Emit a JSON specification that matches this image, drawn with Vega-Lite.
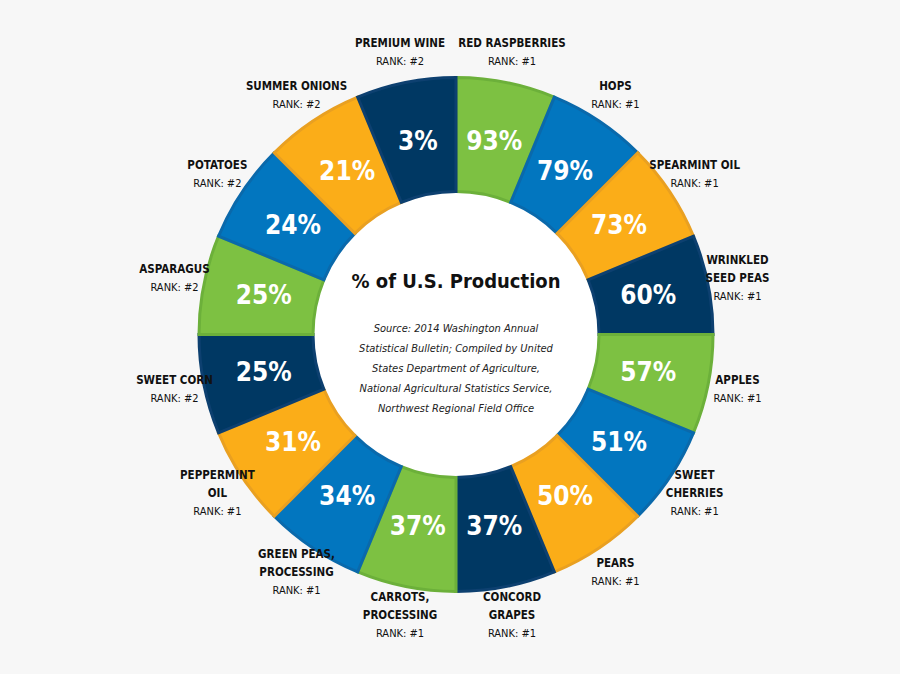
{
  "$schema": "https://vega.github.io/schema/vega-lite/v6.json",
  "width": 888,
  "height": 669,
  "autosize": {"type": "none"},
  "padding": {"left": 12, "top": 0, "right": 0, "bottom": 5},
  "background": "#f7f7f7",
  "view": {"stroke": null},
  "data": {
    "values": [
      {"order": 1, "name": "RED RASPBERRIES", "name2": "", "rank": 1, "pct": 93, "color_group": "A", "share": 1},
      {"order": 2, "name": "HOPS", "name2": "", "rank": 1, "pct": 79, "color_group": "B", "share": 1},
      {"order": 3, "name": "SPEARMINT OIL", "name2": "", "rank": 1, "pct": 73, "color_group": "C", "share": 1},
      {"order": 4, "name": "WRINKLED", "name2": "SEED PEAS", "rank": 1, "pct": 60, "color_group": "D", "share": 1},
      {"order": 5, "name": "APPLES", "name2": "", "rank": 1, "pct": 57, "color_group": "A", "share": 1},
      {"order": 6, "name": "SWEET", "name2": "CHERRIES", "rank": 1, "pct": 51, "color_group": "B", "share": 1},
      {"order": 7, "name": "PEARS", "name2": "", "rank": 1, "pct": 50, "color_group": "C", "share": 1},
      {"order": 8, "name": "CONCORD", "name2": "GRAPES", "rank": 1, "pct": 37, "color_group": "D", "share": 1},
      {"order": 9, "name": "CARROTS,", "name2": "PROCESSING", "rank": 1, "pct": 37, "color_group": "A", "share": 1},
      {"order": 10, "name": "GREEN PEAS,", "name2": "PROCESSING", "rank": 1, "pct": 34, "color_group": "B", "share": 1},
      {"order": 11, "name": "PEPPERMINT", "name2": "OIL", "rank": 1, "pct": 31, "color_group": "C", "share": 1},
      {"order": 12, "name": "SWEET CORN", "name2": "", "rank": 2, "pct": 25, "color_group": "D", "share": 1},
      {"order": 13, "name": "ASPARAGUS", "name2": "", "rank": 2, "pct": 25, "color_group": "A", "share": 1},
      {"order": 14, "name": "POTATOES", "name2": "", "rank": 2, "pct": 24, "color_group": "B", "share": 1},
      {"order": 15, "name": "SUMMER ONIONS", "name2": "", "rank": 2, "pct": 21, "color_group": "C", "share": 1},
      {"order": 16, "name": "PREMIUM WINE", "name2": "", "rank": 2, "pct": 3, "color_group": "D", "share": 1}
    ]
  },
  "layer": [
    {
      "data": {"values": [{"label": "center"}]},
      "mark": {"type": "arc", "radius": 143, "theta": 6.2832, "fill": "#ffffff"},
      "encoding": {}
    },
    {
      "mark": {"type": "arc", "innerRadius": 143, "outerRadius": 257, "strokeWidth": 3},
      "encoding": {
        "theta": {"field": "share", "type": "quantitative", "stack": true},
        "order": {"field": "order", "type": "quantitative"},
        "color": {
          "field": "color_group", "type": "nominal", "legend": null,
          "scale": {"domain": ["A", "B", "C", "D"], "range": ["#7dc142", "#0276bf", "#fbad18", "#003863"]}
        },
        "stroke": {
          "field": "color_group", "type": "nominal", "legend": null,
          "scale": {"domain": ["A", "B", "C", "D"], "range": ["#6cb03a", "#0a69ab", "#e9a021", "#0d4070"]}
        }
      }
    },
    {
      "transform": [{"calculate": "datum.pct + '%'", "as": "pctLabel"}],
      "mark": {"type": "text", "radius": 196, "font": "'DejaVu Sans Condensed', Roboto, sans-serif", "fontWeight": "bold", "fontSize": 26, "fill": "#ffffff", "align": "center", "baseline": "middle"},
      "encoding": {
        "theta": {"field": "share", "type": "quantitative", "stack": true},
        "order": {"field": "order", "type": "quantitative"},
        "text": {"field": "pctLabel"}
      }
    },
    {
      "transform": [{"calculate": "datum.name2 != '' ? datum.name + '\\n\u200b\\n' + datum.name2 : '\u200b\\n' + datum.name", "as": "boldLabel"}],
      "mark": {"type": "text", "radius": 287, "dy": -18, "font": "'DejaVu Sans Condensed', Roboto, sans-serif", "fontWeight": "bold", "fontSize": 11.5, "lineHeight": 9, "lineBreak": "\n", "fill": "#111111", "align": "center", "baseline": "middle"},
      "encoding": {
        "theta": {"field": "share", "type": "quantitative", "stack": true},
        "order": {"field": "order", "type": "quantitative"},
        "text": {"field": "boldLabel"}
      }
    },
    {
      "transform": [{"calculate": "(datum.name2 != '' ? '\u200b\\n\u200b\\n\u200b\\n\u200b\\n' : '\u200b\\n\u200b\\n\u200b\\n') + 'RANK: #' + datum.rank", "as": "rankLabel"}],
      "mark": {"type": "text", "radius": 287, "dy": -18, "font": "'DejaVu Sans Condensed', Roboto, sans-serif", "fontSize": 11, "lineHeight": 9, "lineBreak": "\n", "fill": "#111111", "align": "center", "baseline": "middle"},
      "encoding": {
        "theta": {"field": "share", "type": "quantitative", "stack": true},
        "order": {"field": "order", "type": "quantitative"},
        "text": {"field": "rankLabel"}
      }
    },
    {
      "data": {"values": [{"title": "% of U.S. Production"}]},
      "mark": {"type": "text", "font": "'DejaVu Sans Condensed', Roboto, sans-serif", "fontWeight": "bold", "fontSize": 20, "fill": "#111111", "align": "center", "baseline": "middle", "dy": -53},
      "encoding": {"text": {"field": "title"}}
    },
    {
      "data": {"values": [{"source": "Source: 2014 Washington Annual\nStatistical Bulletin; Compiled by United\nStates Department of Agriculture,\nNational Agricultural Statistics Service,\nNorthwest Regional Field Office"}]},
      "mark": {"type": "text", "font": "'DejaVu Sans Condensed', Roboto, sans-serif", "fontStyle": "italic", "fontSize": 11, "lineHeight": 20, "lineBreak": "\n", "fill": "#222222", "align": "center", "baseline": "middle", "dy": -6},
      "encoding": {"text": {"field": "source"}}
    }
  ]
}
